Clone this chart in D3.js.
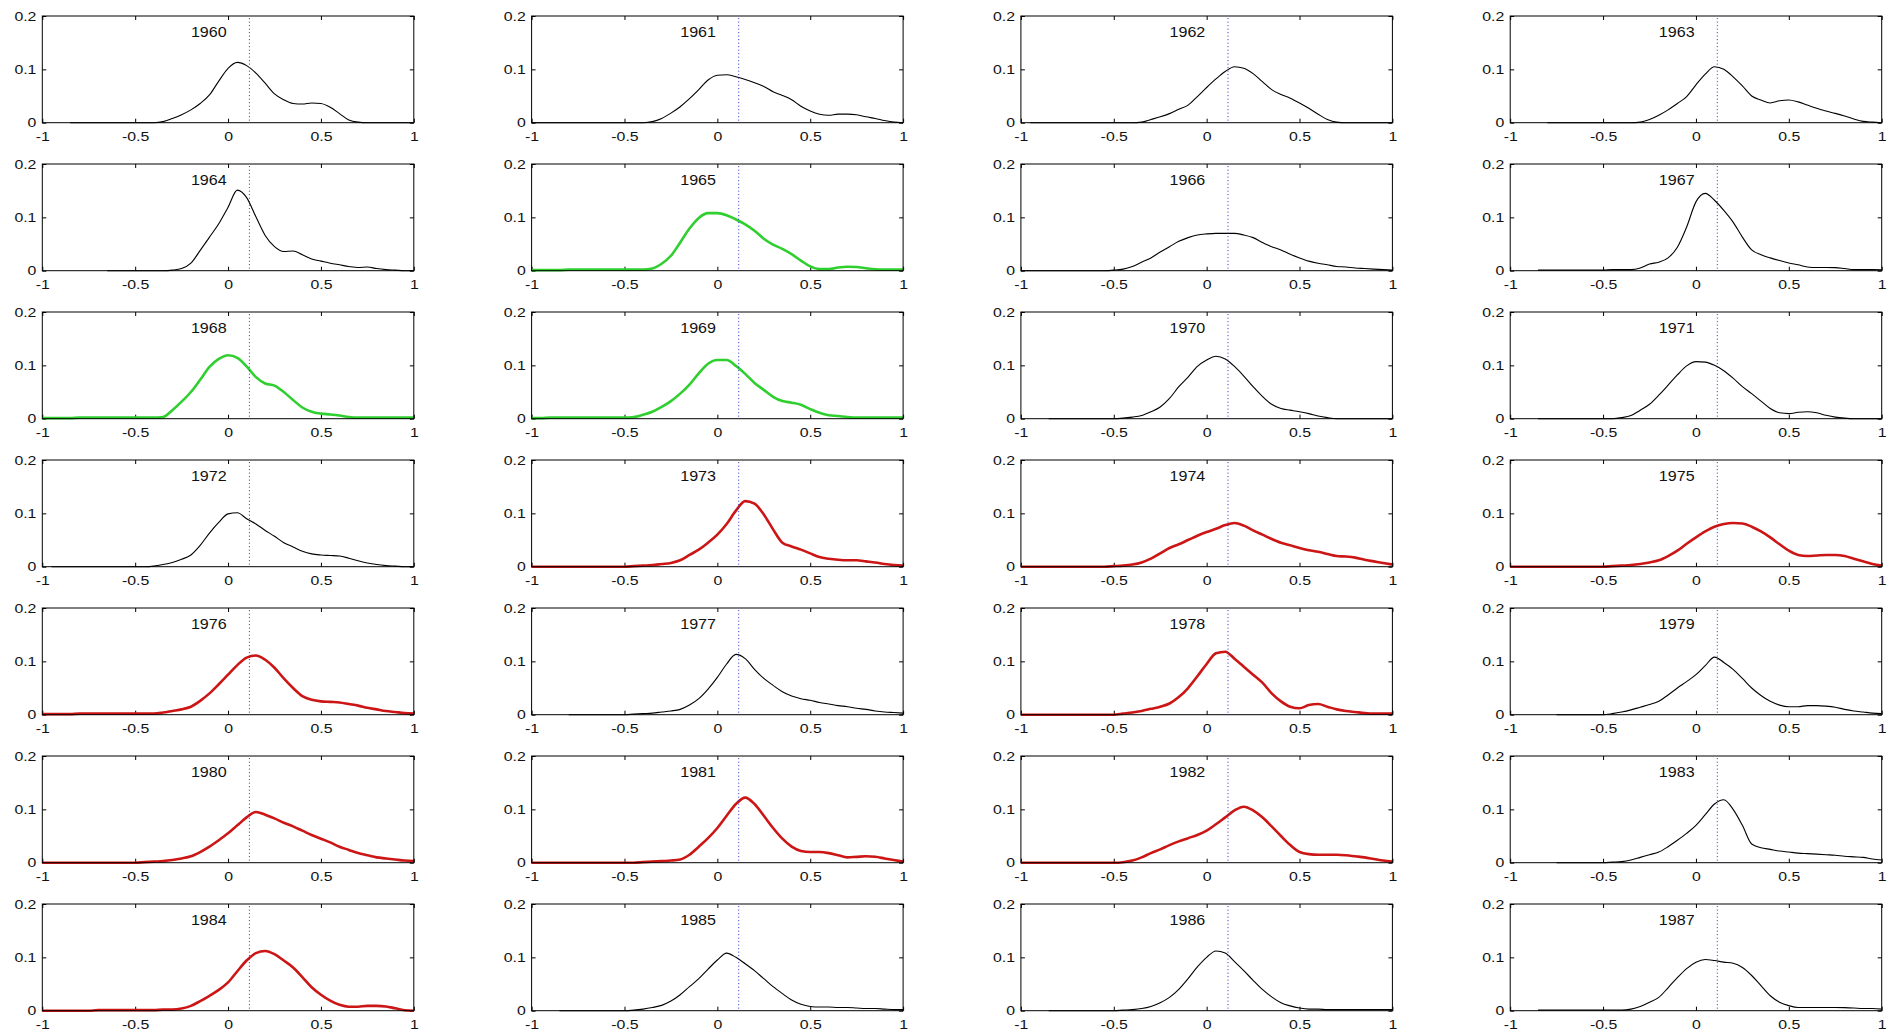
<!DOCTYPE html>
<html><head><meta charset="utf-8">
<script src="https://cdn.jsdelivr.net/npm/d3@7"></script>
<style>body{margin:0;background:#fff}svg{display:block}text{font-family:"Liberation Sans",Arial,sans-serif}</style>
</head><body><svg id="c" width="1900" height="1034"></svg>
<script>
const years = [1960,1961,1962,1963,1964,1965,1966,1967,1968,1969,1970,1971,1972,1973,1974,1975,1976,1977,1978,1979,1980,1981,1982,1983,1984,1985,1986,1987];
const kinds = ["k","k","k","k","k","g","k","k","g","g","k","k","k","r","r","r","r","k","r","k","r","r","r","k","r","k","k","k"];
const xTicks = [-1,-0.5,0,0.5,1];
const xTickLabels = ["-1","-0.5","0","0.5","1"];
const yTicks = [0,0.1,0.2];
const yTickLabels = ["0","0.1","0.2"];
const refLine = 0.115;
const xs = [-1,-0.95,-0.9,-0.85,-0.8,-0.75,-0.7,-0.65,-0.6,-0.55,-0.5,-0.45,-0.4,-0.35,-0.3,-0.25,-0.2,-0.15,-0.1,-0.05,0,0.05,0.1,0.15,0.2,0.25,0.3,0.35,0.4,0.45,0.5,0.55,0.6,0.65,0.7,0.75,0.8,0.85,0.9,0.95,1];
const _ = null;
const d1960 = [_,_,_,0,0,0,0,0,0,0, 0,0,0, 0.002,0.008,0.015,0.024,0.036,0.052,0.078, 0.102,0.113,0.107,0.093,0.074,0.054,0.043,0.036,0.035,0.037, 0.036,0.029,0.017,0.005,0.001,0,0,0,0,0, 0];
const d1961 = [0,0,0,0,0,0,0,0,0,0, 0,0,0, 0.002,0.008,0.018,0.030,0.045,0.062,0.080, 0.089,0.090,0.086,0.081,0.075,0.068,0.058,0.051,0.043,0.031, 0.022,0.016,0.014,0.016,0.016,0.015,0.011,0.008,0.004,0.001, 0];
const d1962 = [_,0,0,0,0,0,0,0,0,0, 0,0,0, 0.001,0.006,0.011,0.017,0.025,0.033,0.049, 0.066,0.082,0.096,0.105,0.102,0.092,0.077,0.062,0.053,0.046, 0.037,0.027,0.016,0.006,0.001,0,0,0,0,0, 0];
const d1963 = [_,_,_,_,0,0,0,0,0,0, 0,0,0, 0,0.001,0.006,0.014,0.024,0.036,0.049, 0.071,0.091,0.105,0.100,0.086,0.069,0.050,0.0425,0.037,0.041, 0.0425,0.039,0.033,0.027,0.022,0.0175,0.0125,0.007,0.0025,0.001, 0];
const d1964 = [_,_,_,_,_,_,_,0,0,0, 0,0,0, 0,0.001,0.004,0.014,0.038,0.063,0.088, 0.119,0.151,0.137,0.101,0.066,0.045,0.036,0.037,0.030,0.022, 0.018,0.014,0.011,0.008,0.006,0.007,0.004,0.002,0.001,0, 0];
const d1965 = [0.001,0.001,0.001,0.001,0.002,0.002,0.002,0.002,0.002,0.002, 0.002,0.002,0.002, 0.004,0.013,0.028,0.053,0.079,0.099,0.108, 0.108,0.104,0.096,0.087,0.075,0.060,0.049,0.041,0.031,0.019, 0.008,0.003,0.003,0.006,0.0075,0.007,0.0045,0.0025,0.002,0.002, 0.002];
const d1966 = [0,0,0,0,0,0,0,0,0,0, 0.001,0.003,0.008, 0.016,0.024,0.035,0.045,0.055,0.062,0.067, 0.069,0.070,0.070,0.070,0.067,0.062,0.053,0.045,0.039,0.031, 0.024,0.018,0.014,0.011,0.008,0.007,0.005,0.004,0.003,0.002, 0.001];
const d1967 = [_,_,_,0.001,0.001,0.001,0.001,0.001,0.001,0.001, 0.001,0.002,0.002, 0.002,0.005,0.0125,0.016,0.024,0.044,0.082, 0.129,0.145,0.132,0.113,0.091,0.063,0.039,0.030,0.024,0.019, 0.0145,0.011,0.007,0.006,0.006,0.0057,0.004,0.002,0.002,0.002, 0.0015];
const d1968 = [0.001,0.001,0.001,0.001,0.002,0.002,0.002,0.002,0.002,0.002, 0.002,0.002,0.002, 0.003,0.016,0.032,0.050,0.073,0.097,0.112, 0.119,0.114,0.098,0.078,0.066,0.062,0.050,0.035,0.021,0.013, 0.0095,0.008,0.006,0.003,0.002,0.002,0.002,0.002,0.002,0.002, 0.002];
const d1969 = [0.001,0.001,0.002,0.002,0.002,0.002,0.002,0.002,0.002,0.002, 0.002,0.003,0.0075, 0.013,0.022,0.033,0.047,0.064,0.085,0.103, 0.110,0.110,0.099,0.084,0.067,0.054,0.041,0.033,0.030,0.026, 0.018,0.011,0.0065,0.005,0.003,0.002,0.002,0.002,0.002,0.002, 0.002];
const d1970 = [_,_,_,0,0,0,0,0,0,0, 0,0.001,0.003, 0.006,0.013,0.022,0.038,0.060,0.078,0.098, 0.110,0.117,0.112,0.098,0.080,0.060,0.042,0.027,0.019,0.016, 0.013,0.0095,0.005,0.002,0,0,0,0,0,0, 0];
const d1971 = [_,_,_,0,0,0,0,0,0,0, 0,0,0.002, 0.006,0.016,0.027,0.044,0.063,0.082,0.099, 0.107,0.106,0.100,0.090,0.076,0.060,0.047,0.033,0.019,0.011, 0.0095,0.012,0.013,0.011,0.0065,0.003,0.001,0,0,0, 0];
const d1972 = [_,0,0,0,0,0,0,0,0,0, 0,0,0.001, 0.004,0.008,0.014,0.022,0.040,0.063,0.083, 0.099,0.101,0.090,0.080,0.068,0.057,0.045,0.037,0.029,0.024, 0.022,0.021,0.020,0.016,0.011,0.007,0.004,0.002,0.001,0, 0];
const d1973 = [0,0,0,0,0,0,0,0,0,0, 0,0.001,0.002, 0.003,0.005,0.007,0.012,0.022,0.032,0.045, 0.060,0.080,0.105,0.123,0.118,0.098,0.070,0.045,0.038,0.032, 0.025,0.018,0.015,0.013,0.012,0.012,0.010,0.008,0.005,0.003, 0.002];
const d1974 = [0,0,0,0,0,0,0,0,0,0, 0.001,0.002,0.004, 0.008,0.015,0.025,0.035,0.042,0.050,0.058, 0.065,0.071,0.078,0.082,0.077,0.068,0.060,0.052,0.045,0.040, 0.035,0.031,0.028,0.024,0.020,0.019,0.017,0.013,0.010,0.007, 0.004];
const d1975 = [0,0,0,0,0,0,0,0,0,0, 0,0.001,0.002, 0.003,0.005,0.008,0.012,0.020,0.030,0.043, 0.055,0.066,0.075,0.080,0.082,0.081,0.075,0.066,0.055,0.042, 0.030,0.022,0.020,0.021,0.022,0.022,0.020,0.015,0.010,0.005, 0.002];
const d1976 = [0.001,0.001,0.001,0.001,0.002,0.002,0.002,0.002,0.002,0.002, 0.002,0.002,0.002, 0.004,0.007,0.010,0.015,0.026,0.040,0.057, 0.075,0.093,0.107,0.111,0.103,0.088,0.068,0.050,0.035,0.028, 0.025,0.024,0.023,0.020,0.017,0.013,0.010,0.007,0.005,0.003, 0.002];
const d1977 = [_,_,_,_,0,0,0,0,0,0, 0,0.001,0.002, 0.003,0.005,0.007,0.010,0.018,0.030,0.048, 0.070,0.095,0.113,0.105,0.085,0.068,0.055,0.043,0.035,0.030, 0.027,0.023,0.020,0.017,0.015,0.012,0.010,0.007,0.005,0.004, 0.003];
const d1978 = [0,0,0,0,0,0,0,0,0,0, 0,0.002,0.004, 0.007,0.011,0.015,0.021,0.033,0.050,0.072, 0.095,0.115,0.118,0.105,0.090,0.075,0.060,0.040,0.025,0.015, 0.012,0.018,0.020,0.015,0.010,0.007,0.005,0.003,0.002,0.002, 0.002];
const d1979 = [_,_,_,_,_,0,0,0,0,0, 0,0.002,0.005, 0.009,0.014,0.019,0.025,0.037,0.050,0.062, 0.075,0.092,0.108,0.098,0.085,0.068,0.050,0.036,0.025,0.018, 0.015,0.015,0.017,0.017,0.016,0.014,0.010,0.007,0.005,0.003, 0.002];
const d1980 = [0,0,0,0,0,0,0,0,0,0, 0,0.001,0.002, 0.003,0.005,0.008,0.012,0.020,0.030,0.042, 0.055,0.070,0.085,0.095,0.090,0.083,0.075,0.068,0.060,0.052, 0.045,0.038,0.030,0.024,0.018,0.014,0.010,0.008,0.006,0.004, 0.003];
const d1981 = [0,0,0,0,0,0,0,0,0,0, 0,0,0.001, 0.002,0.003,0.004,0.006,0.015,0.030,0.046, 0.065,0.088,0.110,0.122,0.110,0.088,0.065,0.045,0.030,0.022, 0.020,0.020,0.018,0.014,0.010,0.011,0.012,0.011,0.008,0.005, 0.002];
const d1982 = [0,0,0,0,0,0,0,0,0,0, 0,0.001,0.004, 0.010,0.018,0.025,0.033,0.040,0.046,0.052, 0.060,0.072,0.085,0.098,0.105,0.098,0.085,0.068,0.050,0.033, 0.020,0.016,0.015,0.015,0.015,0.014,0.012,0.010,0.007,0.004, 0.002];
const d1983 = [_,_,_,_,_,0,0,0,0,0, 0,0.001,0.002, 0.005,0.010,0.015,0.020,0.030,0.042,0.055, 0.070,0.090,0.110,0.118,0.100,0.070,0.035,0.028,0.025,0.022, 0.020,0.018,0.017,0.016,0.015,0.014,0.012,0.011,0.010,0.007, 0.005];
const d1984 = [0,0,0,0,0,0,0.001,0.001,0.001,0.001, 0.001,0.001,0.001, 0.002,0.002,0.004,0.009,0.018,0.028,0.039, 0.053,0.074,0.094,0.108,0.112,0.106,0.094,0.081,0.063,0.044, 0.030,0.019,0.011,0.0075,0.0075,0.009,0.009,0.008,0.0045,0.001, 0];
const d1985 = [_,_,_,0,0,0,0,0,0,0, 0,0.001,0.003, 0.006,0.010,0.018,0.030,0.045,0.060,0.078, 0.095,0.108,0.100,0.088,0.075,0.060,0.045,0.032,0.020,0.012, 0.008,0.007,0.007,0.006,0.006,0.005,0.004,0.004,0.003,0.002, 0.002];
const d1986 = [_,_,_,0,0,0,0,0,0,0, 0,0.001,0.002, 0.004,0.008,0.015,0.025,0.040,0.060,0.082, 0.100,0.112,0.108,0.092,0.075,0.057,0.040,0.026,0.015,0.009, 0.005,0.003,0.003,0.002,0.002,0.002,0.002,0.002,0.002,0.002, 0.002];
const d1987 = [_,_,_,0.001,0.001,0.001,0.001,0.001,0.001,0.001, 0.001,0.001,0.001, 0.003,0.008,0.016,0.025,0.043,0.062,0.079, 0.091,0.096,0.094,0.091,0.089,0.081,0.066,0.047,0.028,0.016, 0.0095,0.006,0.006,0.006,0.006,0.006,0.0057,0.005,0.004,0.004, 0.003];
const series = [d1960,d1961,d1962,d1963,d1964,d1965,d1966,d1967,d1968,d1969,d1970,d1971,d1972,d1973,d1974,d1975,d1976,d1977,d1978,d1979,d1980,d1981,d1982,d1983,d1984,d1985,d1986,d1987];

// ---- layout / style ----
const styles = {k:{color:"#000",width:1.1}, g:{color:"#2fcf2f",width:2.6}, r:{color:"#cc1515",width:2.6}};
const colX0 = 42.3, colStep = 489.3, pw = 371.5;
const rowY0 = 16, rowStep = 148, ph = 106.7;
const tickFont = "13px", tickStretch = 1.22, yearFont = "14px", yearStretch = 1.15;

const svg = d3.select("#c");
const x = d3.scaleLinear().domain([-1,1]).range([0,pw]);
const y = d3.scaleLinear().domain([0,0.2]).range([ph,0]);
const line = d3.line().defined(d=>d[1]!==null).x(d=>x(d[0])).y(d=>y(d[1])).curve(d3.curveMonotoneX);

years.forEach((yr,i)=>{
  const c = i%4, r = Math.floor(i/4);
  const g = svg.append("g").attr("transform",`translate(${colX0+c*colStep},${rowY0+r*rowStep})`);
  const fmtX = (d,j)=>xTickLabels[j], fmtY=(d,j)=>yTickLabels[j];
  const ax = g.append("g").attr("transform",`translate(0,${ph})`).call(d3.axisBottom(x).tickValues(xTicks).tickFormat(fmtX).tickSizeInner(-4).tickSizeOuter(0).tickPadding(9));
  const at = g.append("g").call(d3.axisTop(x).tickValues(xTicks).tickFormat("").tickSizeInner(-4).tickSizeOuter(0));
  const ay = g.append("g").call(d3.axisLeft(y).tickValues(yTicks).tickFormat(fmtY).tickSizeInner(-4).tickSizeOuter(0).tickPadding(4.8));
  const ar = g.append("g").attr("transform",`translate(${pw},0)`).call(d3.axisRight(y).tickValues(yTicks).tickFormat("").tickSizeInner(-4).tickSizeOuter(0));
  [ax,at,ay,ar].forEach(a=>{a.select(".domain").remove(); a.selectAll("line").attr("stroke","#000");
    a.selectAll("text").attr("fill","#111").style("font-size",tickFont).attr("transform",`scale(${tickStretch},1)`);});
  const pts = xs.map((xv,j)=>[xv,series[i][j]]);
  const st = styles[kinds[i]];
  g.append("path").datum(pts).attr("d",line).attr("fill","none").attr("stroke",st.color).attr("stroke-width",st.width).attr("stroke-linejoin","round");
  g.append("line").attr("x1",x(refLine)).attr("x2",x(refLine)).attr("y1",y(0.196)).attr("y2",y(0.003))
    .attr("stroke","#2b2bc8").attr("stroke-width",1).attr("stroke-dasharray","1,2.5");
  g.append("rect").attr("x",0).attr("y",0).attr("width",pw).attr("height",ph).attr("fill","none").attr("stroke","#000").attr("stroke-width",1);
  g.append("text").attr("transform",`translate(${x(-0.2)},${y(0.168)}) scale(${yearStretch},1)`).attr("dominant-baseline","middle")
    .style("font-size",yearFont).attr("fill","#111").text(yr);
});
</script></body></html>
